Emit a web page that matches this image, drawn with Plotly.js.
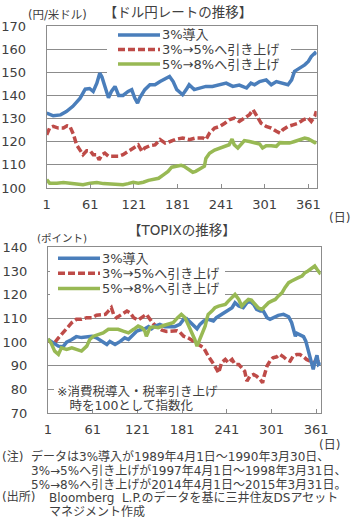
<!DOCTYPE html>
<html><head><meta charset="utf-8">
<script src="https://cdn.plot.ly/plotly-3.0.1.min.js"></script>
<style>html,body{margin:0;padding:0;background:#fff}#chart{width:352px;height:523px}</style>
</head><body><div id="chart"></div>
<script>
// ---------- data: USD/JPY ----------
const seriesNames = ['3%導入', '3%→5%へ引き上げ', '5%→8%へ引き上げ'];
const xTicks = [1, 61, 121, 181, 241, 301, 361];

const usdDaysA = [1,10,20,28,37,47,54,60,65,70,74,77,81,86,90,95,100,106,113,118,122,126,129,136,143,150,157,164,170,175,180,183,188,193,197,204,211,220,229,239,248,257,266,276,282,287,294,303,310,317,326,333,338,342,349,356,361,365,370,372];
const usdValsA = [132.4,131.2,131.6,133,135.3,138.8,142.7,143,141.7,145.3,149.6,148,144,139,141.7,143.9,140,140,141.7,142.5,139,136.7,139,142.5,144.6,144.6,146,147.4,148.2,146,142.5,141.7,140.3,142.5,144.6,142.5,143.2,143.9,143.9,144.6,145.3,143.9,144.5,143.2,145.3,144.6,146,146.7,144.6,146,145.3,144.6,146.7,150.4,151.8,153.2,154.7,156.8,158.3,157.6];

const usdDaysB = [1,5,10,17,24,29,33,38,42,47,51,56,61,65,70,73,77,81,86,93,100,106,113,120,127,132,136,143,150,157,164,171,178,188,197,206,216,220,225,232,239,246,252,259,266,273,280,285,289,296,303,310,317,322,326,333,340,347,354,361,365,370,372];
const usdValsB = [123,125.9,126.6,125.9,125.9,126.9,126.6,123,118.7,116,114.4,116.1,116,114.4,114.4,112.2,114.4,115.1,113.7,113.7,113.7,114.4,115.8,117.3,118.6,115.8,117.3,118.3,118.6,120.9,119.4,120.1,121,121.6,120.9,121.6,121.6,120.9,123.7,125.9,126.6,128,129.5,130.2,128.8,130.2,131.7,133.8,131.7,128,126.6,125.9,124.5,123.7,125.2,126.6,127.3,128,129.5,130.2,128.8,131,133.2];

const usdDaysC = [1,5,15,24,33,42,51,61,70,79,88,97,106,113,120,127,134,141,148,155,162,168,173,180,186,190,197,202,206,213,218,220,225,232,239,246,252,256,259,264,269,273,280,287,294,298,303,310,317,322,328,335,342,349,356,361,365,370,372];
const usdValsC = [103.6,102.1,102.1,102.4,102.1,101.9,101.4,102.1,102.4,101.9,101.7,101.4,101.4,101.9,102.5,102.1,102.5,103.3,103.9,104.2,105.8,107.2,109,109.4,109.8,109.4,107.9,106.8,107.2,108.6,109.4,112.8,115,116.4,117.1,118,118.7,121.1,118.7,117.3,119.4,120.5,120.1,119.6,119,117.3,118.3,118.3,118,119.6,119.4,119.4,120.1,120.8,121.6,121.2,120.5,119.6,120];

// ---------- data: TOPIX (index, start = 100) ----------
const tpxDaysA = [1,8,15,21,26,33,39,46,53,60,66,73,80,84,91,98,104,109,113,120,124,131,136,140,145,151,158,165,171,178,183,187,192,196,201,205,210,216,223,227,234,241,248,252,257,263,268,272,277,281,286,290,295,299,303,310,317,324,328,330,333,335,339,344,347,350,355,357,359,362,364,367];
const tpxValsA = [101.1,99.7,98.3,98,100,101.1,102.3,101.9,102.3,102.5,101.8,100.4,99,100.3,99,100.3,101.8,101.1,102.5,104.6,105.1,105.6,106.5,105.6,106.8,107.5,106.5,106.5,106.5,107.5,109.6,109.9,108.2,106.8,105.6,107.5,108.9,109.6,108.9,110.3,111.7,113.1,114.5,116.6,115.2,114.5,116.6,117.3,115.9,113.8,113.1,113.1,110.3,109.6,110.3,111.3,111.7,110.7,108.2,105.4,102.5,103.7,103.2,102.3,100.4,96.9,92,88.5,91.3,94.4,90.6,91.3];

const tpxDaysB = [1,8,15,19,26,33,39,46,53,60,66,73,78,82,86,89,93,100,107,111,116,122,129,133,138,142,147,154,160,167,174,178,183,189,196,203,210,216,221,225,230,234,239,243,248,252,257,261,265,268,272,277,281,286,289,291,295,299,303,308,312,317,321,326,330,335,339,344,348,353,357,362,367];
const tpxValsB = [101.1,99,101.8,103.2,106.1,108.2,109.6,109.6,110.3,110.3,111.3,111.7,111.7,113.1,114.5,111.7,110.3,111.7,113.1,112.4,110.3,109.3,111,111.7,109.6,107.9,106.5,105,104.5,104.5,104.8,104.2,102.5,101.8,100.4,99,97.6,94.1,92,89.9,87,91.3,92.7,91.3,92.7,90.6,90.6,89.2,87.7,83.5,85.6,86.3,85.6,84.2,82.8,85.6,89.9,92,93.4,93.8,94.8,93.8,92.7,92,94.1,94.8,94.8,93.8,92.7,92,91.3,92,91.3];

const tpxDaysC = [1,5,10,15,19,26,33,39,46,53,57,62,69,75,82,89,95,102,109,116,122,127,131,133,138,142,149,156,163,169,175,180,185,189,194,198,201,203,207,212,214,216,221,225,230,234,239,243,248,252,257,261,265,270,274,279,283,288,292,297,301,306,310,315,319,324,328,333,337,342,346,350,355,359,362,365,367];
const tpxValsC = [101.4,99.7,96.2,94.8,97.6,96.9,97.6,96.9,96.2,98.3,101.1,102.5,103.2,103.9,105.4,105.6,105.4,104.6,103.9,105.4,106.8,106.1,104.6,102.5,106.1,106.5,106.1,107,107.5,108.2,110.3,111.7,110.3,107.5,104.6,101.1,98.3,99.7,102.5,106.8,109.6,111.7,113.1,114.5,115.2,115.5,115.9,117.3,118.7,120.1,118,115.2,116.6,118,117.7,115.9,114.5,113.8,115.2,116.6,117.3,118,119.4,120.8,123,125.1,125.8,126.8,127.2,127.9,129.3,130,131.4,132.1,130.7,129.3,128.6];

// ---------- styling / layout ----------
const W = 352, H = 523;
const px = x => x / W, py = y => 1 - y / H;
const FONT = 'DejaVu Sans, "Noto Sans CJK JP", sans-serif';
const TXT = '#404040', GRID = '#8c8c8c';
const COLORS = ['#4a7ebb', '#be4b48', '#98b954'];
const DASHES = ['solid', '7px,3px', 'solid'];
const LW = 3.5;

function mk(x, y, i, xa, ya) {
  return {type: 'scatter', mode: 'lines', x: x, y: y, name: seriesNames[i], xaxis: xa, yaxis: ya,
    showlegend: false, hoverinfo: 'skip',
    line: {color: COLORS[i], width: LW, dash: DASHES[i]}};
}
const data = [
  mk(usdDaysC, usdValsC, 2, 'x', 'y'),
  mk(usdDaysB, usdValsB, 1, 'x', 'y'),
  mk(usdDaysA, usdValsA, 0, 'x', 'y'),
  mk(tpxDaysB, tpxValsB, 1, 'x2', 'y2'),
  mk(tpxDaysA, tpxValsA, 0, 'x2', 'y2'),
  mk(tpxDaysC, tpxValsC, 2, 'x2', 'y2')
];

function xax(dom, rng, anchor) {
  return {domain: dom, range: rng, anchor: anchor, tickmode: 'array', tickvals: xTicks,
    ticks: 'inside', ticklen: 4, tickcolor: GRID, showline: true, mirror: true, linecolor: GRID,
    linewidth: 1, showgrid: false, zeroline: false, tickfont: {size: 13, color: TXT}, ticklabelstandoff: 4, fixedrange: true};
}
function yax(dom, rng, anchor) {
  return {domain: dom, range: rng, anchor: anchor, dtick: 10, tick0: 0, showgrid: true, gridcolor: GRID,
    gridwidth: 1, showline: true, mirror: true, linecolor: GRID, ticks: '', zeroline: false,
    tickfont: {size: 13, color: TXT}, ticklabelstandoff: 17, fixedrange: true};
}

const shapes = [];
const annotations = [];
function txt(t, x, y, size, anchor) {
  annotations.push({text: t, xref: 'paper', yref: 'paper', x: px(x), y: py(y), xanchor: anchor || 'left',
    yanchor: 'middle', showarrow: false, borderpad: 0, font: {size: size, color: TXT, family: FONT}});
}
function rect(x0, y0, x1, y1) {
  shapes.push({type: 'rect', xref: 'paper', yref: 'paper', x0: px(x0), x1: px(x1), y0: py(y1), y1: py(y0),
    fillcolor: '#ffffff', line: {width: 0}, layer: 'above'});
}
function legendBlock(x0, rowsY, sampleW, textX) {
  rowsY.forEach((yy, i) => {
    shapes.push({type: 'line', xref: 'paper', yref: 'paper', x0: px(x0), x1: px(x0 + sampleW), y0: py(yy), y1: py(yy),
      line: {color: COLORS[i], width: LW, dash: DASHES[i]}, layer: 'above'});
    txt(seriesNames[i], textX, yy, 13);
  });
}

// top legend
rect(107, 26.5, 291, 73);
legendBlock(118, [35, 49.5, 64], 42, 161);
// bottom legend
rect(50, 248, 225, 298);
legendBlock(58, [258.3, 273.3, 288.5], 42, 101);
// note in bottom chart
rect(54, 383, 208, 398);
txt('※消費税導入・税率引き上げ', 56, 391.5, 12.5);
txt('\u3000時を100として指数化', 56, 405, 12.5);

// titles and units
txt('【TOPIXの推移】', 182, 230, 13.5, 'center');
txt('(円/米ドル)', 27, 15, 11.5);
txt('(ポイント)', 36, 238, 10.5);
txt('(日)', 339, 218, 12, 'center');
txt('(日)', 329, 445, 12, 'center');

// footnotes
txt('(注)', 1, 456.5, 12);
txt('データは3%導入が1989年4月1日～1990年3月30日、', 30, 456.5, 12);
txt('3%→5%へ引き上げが1997年4月1日～1998年3月31日、', 30, 470.5, 12);
txt('5%→8%へ引き上げが2014年4月1日～2015年3月31日。', 30, 484.2, 12);
txt('(出所)', 1, 497.3, 12);
txt('Bloomberg  L.P.のデータを基に三井住友DSアセット', 48, 497.3, 12);
txt('マネジメント作成', 48, 511.5, 12);

const layout = {
  width: W, height: H, margin: {l: 0, r: 0, t: 0, b: 0},
  paper_bgcolor: '#ffffff', plot_bgcolor: '#ffffff', showlegend: false,
  font: {family: FONT, size: 13, color: TXT},
  title: {text: '【ドル円レートの推移】', x: px(178), y: py(12), xanchor: 'center', yanchor: 'middle',
    xref: 'paper', font: {size: 13.5, color: TXT, family: FONT}},
  xaxis: xax([px(46.7), px(316.7)], [1, 372.5], 'y'),
  yaxis: yax([py(188), py(26)], [100, 170], 'x'),
  xaxis2: xax([px(48), px(320.7)], [1, 367], 'y2'),
  yaxis2: yax([py(413.2), py(247.3)], [70, 140], 'x2'),
  shapes: shapes, annotations: annotations
};
Plotly.newPlot('chart', data, layout, {staticPlot: true, displayModeBar: false});
</script>
</body></html>
